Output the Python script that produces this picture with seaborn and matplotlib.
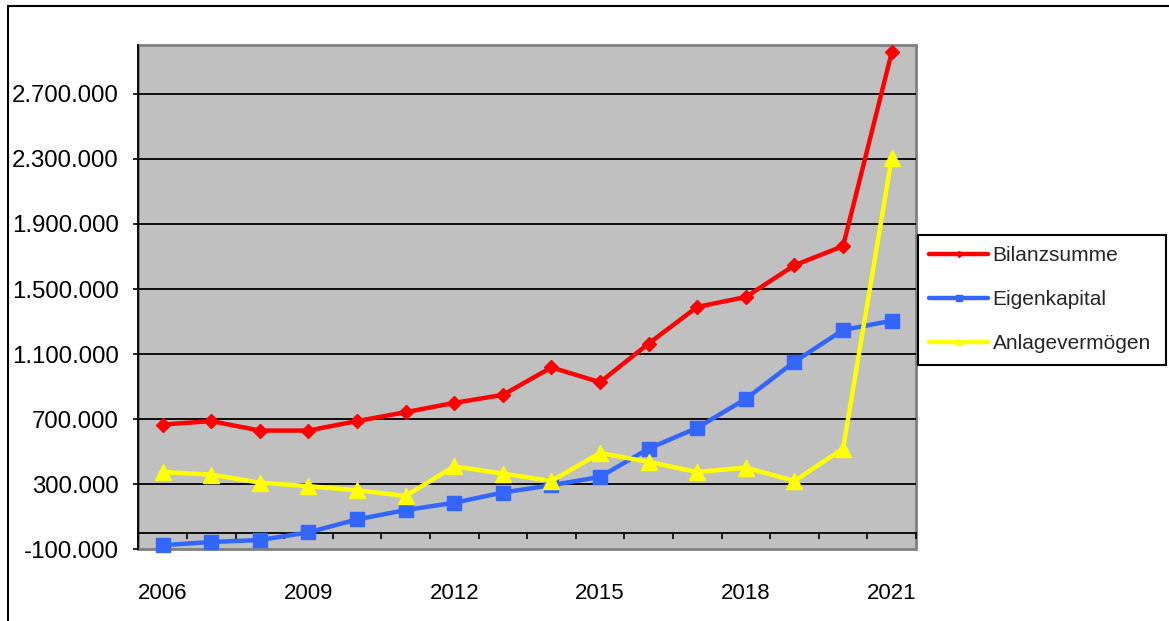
import numpy as np
import matplotlib.pyplot as plt
import matplotlib.ticker as mticker
from matplotlib.patches import Rectangle
import seaborn as sns

# Werte in Euro
jahre = list(range(2006, 2022))
bilanzsumme = [667000, 688000, 630000, 630000, 688000, 743000, 800000, 849000,
               1018000, 927000, 1165000, 1390000, 1451000, 1646000, 1764000, 2954000]
eigenkapital = [-75000, -55000, -43000, 4000, 84000, 141000, 186000, 249000,
                294000, 345000, 519000, 647000, 825000, 1053000, 1248000, 1305000]
anlagevermoegen = [375000, 359000, 310000, 288000, 263000, 228000, 410000, 365000,
                   320000, 492000, 437000, 375000, 402000, 320000, 519000, 2305000]
serien = ["Bilanzsumme", "Eigenkapital", "Anlagevermögen"]
y_ticks = list(range(-100000, 3000001, 400000))

W, H = 1169, 621

sns.set_style("ticks")
plt.rcParams["font.family"] = ["Liberation Sans", "DejaVu Sans"]

fig = plt.figure(figsize=(W / 100, H / 100), dpi=100)
ax = fig.add_axes([138.3 / W, 1 - 549.3 / H, (916 - 138.3) / W, (549.3 - 45) / H])
ax.set_facecolor("#C0C0C0")

for v in y_ticks[1:]:
    ax.axhline(v, color="black", lw=1.3, zorder=1)

stil = {
    "Bilanzsumme": dict(color="#FF0000", marker="D", markersize=7.5),
    "Eigenkapital": dict(color="#3366FF", marker="s", markersize=10),
    "Anlagevermögen": dict(color="#FFFF00", marker="^", markersize=11),
}
for name, werte in zip(serien, [bilanzsumme, eigenkapital, anlagevermoegen]):
    s = stil[name]
    sns.lineplot(x=jahre, y=werte, ax=ax, label=name, color=s["color"],
                 marker=s["marker"], markersize=s["markersize"],
                 markeredgecolor=s["color"], markeredgewidth=1,
                 linewidth=3.2, clip_on=False, zorder=3)

ax.set_xlim(jahre[0] - 0.5, jahre[-1] + 0.5)
ax.set_ylim(y_ticks[0], 3000000)
ax.set_yticks(y_ticks)
ax.yaxis.set_major_formatter(mticker.FuncFormatter(
    lambda v, p: f"{v:,.0f}".replace(",", ".")))
ax.set_xticks(jahre[::3])
ax.set_xticks(np.arange(jahre[0] - 0.5, jahre[-1] + 1, 1), minor=True)
ax.set_xlabel("")
ax.set_ylabel("")

ax.spines["bottom"].set_position(("data", 0))
ax.spines["bottom"].set_color("black")
ax.spines["bottom"].set_linewidth(1.3)
ax.spines["left"].set_color("black")
ax.spines["left"].set_linewidth(1.3)
ax.spines["top"].set_visible(False)
ax.spines["right"].set_visible(False)
ax.patch.set_edgecolor("#808080")
ax.patch.set_linewidth(2)

ax.tick_params(axis="y", which="major", length=3.6, width=1.2, pad=10.5,
               labelsize=17.3, colors="black")
ax.tick_params(axis="x", which="major", length=0, pad=36, labelsize=16,
               colors="black")
ax.tick_params(axis="x", which="minor", length=4.3, width=1.2,
               direction="out", colors="black")

# Legende rechts
handles, labels = ax.get_legend_handles_labels()
leg = ax.legend(handles, labels, loc="upper left",
                bbox_to_anchor=(917.5 / W, 1 - 235 / H, (1166 - 917.5) / W, 0),
                bbox_transform=fig.transFigure, mode="expand", borderaxespad=0,
                frameon=True, fancybox=False, framealpha=1, edgecolor="black",
                borderpad=0.55, labelspacing=1.2, handlelength=2.85,
                handletextpad=0.2, markerscale=0.4, prop={"size": 15})
leg.get_frame().set_linewidth(1.5)

# Rahmen um das ganze Diagramm
fig.patches.append(Rectangle((8.3 / W, -0.05), 1.2, 1.05 - 5.5 / H,
                             transform=fig.transFigure, fill=False,
                             edgecolor="black", linewidth=1.5))

fig.savefig("out.png", dpi=100)
